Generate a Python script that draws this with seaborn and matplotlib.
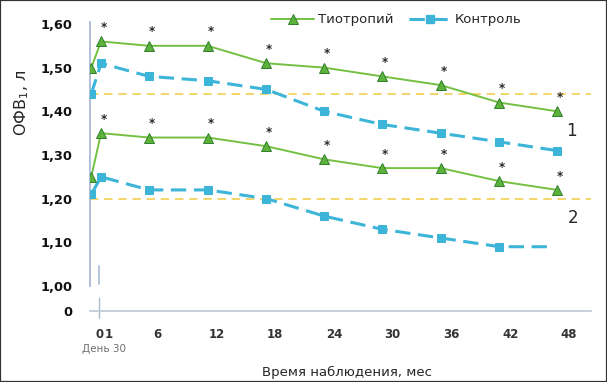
import numpy as np
import pandas as pd
import matplotlib
matplotlib.use("Agg")
import matplotlib.pyplot as plt
import matplotlib.transforms as mtransforms
from matplotlib.patches import Rectangle
from matplotlib.lines import Line2D
import seaborn as sns

# ---- data ----
months = [-0.8, 0.2, 5.1, 11.1, 17.1, 23.0, 28.9, 34.9, 40.9, 46.8]
months_ctrl_low = [-0.8, 0.2, 5.1, 11.1, 17.1, 23.0, 28.9, 34.9, 40.9, 45.8]
tio_upper = [1.50, 1.56, 1.55, 1.55, 1.51, 1.50, 1.48, 1.46, 1.42, 1.40]
ctrl_upper = [1.44, 1.51, 1.48, 1.47, 1.45, 1.40, 1.37, 1.35, 1.33, 1.31]
tio_lower = [1.25, 1.35, 1.34, 1.34, 1.32, 1.29, 1.27, 1.27, 1.24, 1.22]
ctrl_lower = [1.21, 1.25, 1.22, 1.22, 1.20, 1.16, 1.13, 1.11, 1.09, 1.09]
ref_levels = [1.44, 1.20]
x_ticks = [0, 1, 6, 12, 18, 24, 30, 36, 42, 48]
x_ticklabels = ["0", "1", "6", "12", "18", "24", "30", "36", "42", "48"]
y_ticks = [1.00, 1.10, 1.20, 1.30, 1.40, 1.50, 1.60]
y_ticklabels = ["1,00", "1,10", "1,20", "1,30", "1,40", "1,50", "1,60"]
y_zero = 0.9428
series_labels = ["Тиотропий", "Контроль"]

sns.set_style("white")
plt.rcParams["font.family"] = ["DejaVu Sans"]

GREEN = "#74c043"
GREEN_FACE = "#5cb23a"
GREEN_EDGE = "#2f7f2c"
CYAN = "#3db5d8"
YELLOW = "#f2cf4f"
SPINE = "#aabbd3"

fig = plt.figure(figsize=(6.07, 3.82), dpi=100)
ax = fig.add_axes([90 / 607, 1 - 311 / 382, 501 / 607, 301 / 382])

ax.set_xlim(-0.93, 50.25)
ax.set_ylim(y_zero, 1.632)

for lv in ref_levels:
    ax.axhline(lv, color=YELLOW, lw=1.2, dashes=(5, 3.5), zorder=1)

df_tu = pd.DataFrame({"m": months, "v": tio_upper})
df_cu = pd.DataFrame({"m": months, "v": ctrl_upper})
df_tl = pd.DataFrame({"m": months, "v": tio_lower})
df_cl = pd.DataFrame({"m": months_ctrl_low, "v": ctrl_lower})

tio_kw = dict(color=GREEN, lw=1.4, marker="^", markersize=7,
              markerfacecolor=GREEN_FACE, markeredgecolor=GREEN_EDGE,
              markeredgewidth=0.7, zorder=4)
ctrl_kw = dict(color=CYAN, lw=2.2, marker="s", markersize=5.8,
               markerfacecolor=CYAN, markeredgecolor=CYAN, zorder=3)

sns.lineplot(data=df_tu, x="m", y="v", ax=ax, legend=False, **tio_kw)
sns.lineplot(data=df_tl, x="m", y="v", ax=ax, legend=False, **tio_kw)
sns.lineplot(data=df_cu, x="m", y="v", ax=ax, legend=False, **ctrl_kw)
sns.lineplot(data=df_cl, x="m", y="v", ax=ax, legend=False, **ctrl_kw)
for ln in ax.lines[-2:]:
    ln.set_dashes((5, 2.5))
ax.lines[-1].set_markevery(list(range(len(ctrl_lower) - 1)))

# significance asterisks
for series in (tio_upper, tio_lower):
    for xm, yv in list(zip(months, series))[1:]:
        ax.annotate("*", (xm, yv), xytext=(2, 10), textcoords="offset points",
                    ha="center", va="center", fontsize=8.5, fontweight="bold",
                    color="#2a2a2a", zorder=5)

# curve labels
ax.text(46.8 + 0.9, tio_upper[-1] - 0.045, "1", fontsize=12, ha="left", va="center")
ax.text(46.8 + 1.1, tio_lower[-1] - 0.065, "2", fontsize=12, ha="left", va="center")

# axes styling
for s in ["top", "right"]:
    ax.spines[s].set_visible(False)
ax.spines["left"].set_bounds(1.0, 1.605)
ax.spines["left"].set_color(SPINE)
ax.spines["left"].set_linewidth(1.3)
ax.spines["bottom"].set_color("#c3ccd8")
ax.spines["bottom"].set_linewidth(1.3)

ax.set_xticks(x_ticks)
ax.set_xticklabels(x_ticklabels, fontsize=8.5, fontweight="bold", color="#333333")
ax.set_yticks([y_zero] + y_ticks)
ax.set_yticklabels(["0"] + y_ticklabels, fontsize=9.3, fontweight="bold", color="#111111")
ax.tick_params(axis="x", direction="out", length=5, width=1, color="#b8c3d2", pad=7)
ax.tick_params(axis="y", direction="out", length=3.5, width=1, color=SPINE, pad=9)

# axis break marks
ax.plot([0.0, 0.0], [1.004, 1.045], color=SPINE, lw=1.2, clip_on=False, zorder=2)
ax.plot([0.0, 0.0], [y_zero - 0.015, y_zero + 0.03], color=SPINE, lw=1.0, clip_on=False, zorder=2)

ax.set_xlabel("Время наблюдения, мес", fontsize=9.5)
ax.xaxis.set_label_coords(0.513, -0.203)
ax.xaxis.label.set_va("center")
ax.set_ylabel("ОФВ$_{1}$, л", fontsize=11.5)
ax.yaxis.set_label_coords(-0.137, 0.69)
ax.yaxis.label.set_va("center")

ax.text(0.5, -0.125, "День 30",
        transform=mtransforms.blended_transform_factory(ax.transData, ax.transAxes),
        fontsize=7.5, color="#707070", ha="center", va="center")

handles = [Line2D([], [], **{k: v for k, v in tio_kw.items() if k != "zorder"}),
           Line2D([], [], dashes=(5, 2.5), **{k: v for k, v in ctrl_kw.items() if k != "zorder"})]
ax.legend(handles, series_labels, loc="center", bbox_to_anchor=(0.612, 0.967), ncol=2,
          frameon=False, fontsize=9.5, handlelength=3.2, columnspacing=1.2, handletextpad=0.3,
          borderaxespad=0)

fig.patches.append(Rectangle((0, 0), 1, 1, transform=fig.transFigure, fill=False,
                             edgecolor="#333333", lw=1.6, zorder=10))

fig.savefig("out.png", dpi=100)
